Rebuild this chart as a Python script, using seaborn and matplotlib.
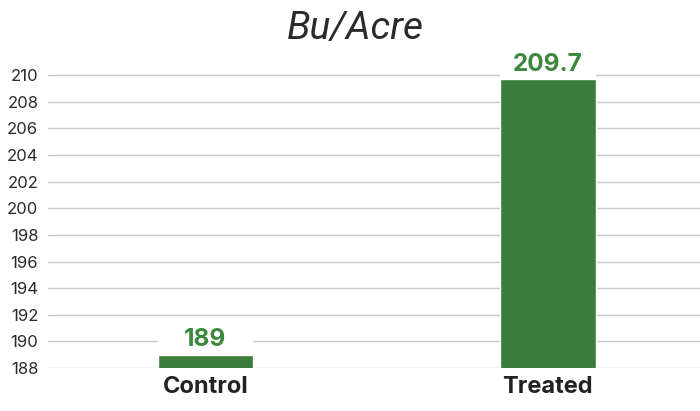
import matplotlib.pyplot as plt
import seaborn as sns
from matplotlib.patches import Rectangle

# Data
treatments = ['Control', 'Treated']
yields = [189, 209.7]
value_labels = ['189', '209.7']

sns.set_theme(style="white")
plt.rcParams['font.family'] = ['Inter', 'DejaVu Sans']

fig = plt.figure(figsize=(7, 4.11), dpi=100)
ax = fig.add_axes([0.0686, 0.1046, 0.9314, 0.732])

sns.barplot(x=treatments, y=yields, color='#3a7d3a', saturation=1,
            width=0.28, ax=ax, zorder=2)

ax.set_ylim(188, 210.6)
ax.set_xlim(-0.46, 1.445)
ax.set_yticks(range(188, 211, 2))
ax.yaxis.grid(True, color='#c8c8c8', linewidth=1)
ax.set_axisbelow(True)
sns.despine(ax=ax, left=True, bottom=True)

# white box behind the value labels, then the labels
for p, lab in zip(ax.patches, value_labels):
    ax.add_patch(Rectangle((p.get_x(), p.get_height()), p.get_width(), 1.5,
                           facecolor='white', edgecolor='none', zorder=1.5))
    ax.annotate(lab, (p.get_x() + p.get_width() / 2, p.get_height()),
                xytext=(0, 6), textcoords='offset points', ha='center',
                va='baseline', fontsize=17.5, fontweight='bold', color='#3b873b',
                zorder=3)

ax.tick_params(axis='y', length=0, pad=7, labelsize=12, labelcolor='#2a2a2a')
ax.tick_params(axis='x', length=0, pad=6, labelsize=17, labelcolor='#222222')
for t in ax.get_xticklabels():
    t.set_fontweight('bold')
ax.set_xlabel('')
ax.set_ylabel('')

fig.text(0.508, 0.93, 'Bu/Acre', ha='center', va='center', fontsize=28,
         style='italic', fontweight='normal', color='#2a2a2a',
         family=['Roboto', 'DejaVu Sans'])

fig.savefig('out.png', dpi=100)
